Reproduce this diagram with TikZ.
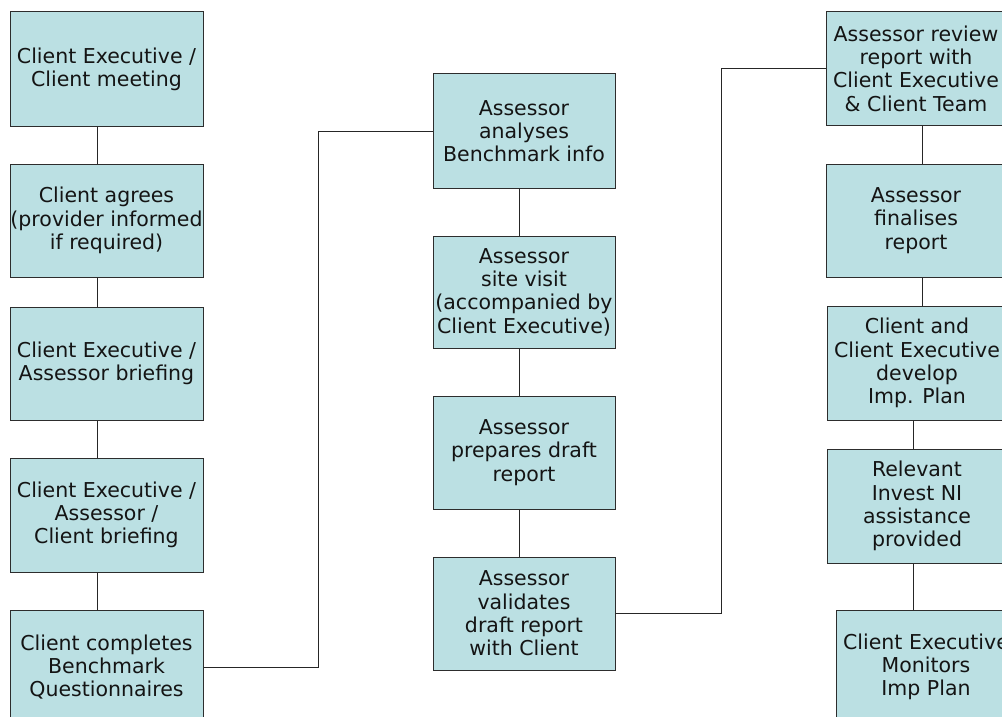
\documentclass[tikz,border=0pt]{standalone}
\usepackage{fontspec}
\setmainfont{DejaVu Sans}
\definecolor{boxfill}{RGB}{187,224,227}
\definecolor{boxline}{RGB}{45,45,45}
\definecolor{txt}{RGB}{20,20,20}
\begin{document}
\begin{tikzpicture}[x=1pt,y=-1pt,
  box/.style={draw=boxline, fill=boxfill, line width=1pt, align=center,
    inner sep=0pt, text=txt, font=\fontsize{20.5}{23.3}\selectfont},
  lbox/.style={box, minimum width=193pt},
  mbox/.style={box, minimum width=182pt},
  rbox/.style={box, minimum width=180pt},
  link/.style={draw=black!85, line width=1pt}]
\clip (0,0) rectangle (1002,717);
\fill[white] (0,0) rectangle (1002,717);
% left column
\node[lbox, minimum height=114pt] (l1) at (106.5,69) {Client Executive /\\Client meeting};
\node[lbox, minimum height=113pt] (l2) at (106.5,220.5) {Client agrees\\(provider informed\\if required)};
\node[lbox, minimum height=113pt] (l3) at (106.5,363.5) {Client Executive /\\Assessor briefing};
\node[lbox, minimum height=114pt] (l4) at (106.5,515) {Client Executive /\\Assessor /\\Client briefing};
\node[lbox, minimum height=114pt] (l5) at (106.5,667) {Client completes\\Benchmark\\Questionnaires};
% middle column
\node[mbox, minimum height=114pt] (m1) at (524,131) {Assessor\\analyses\\Benchmark info};
\node[mbox, minimum height=112pt] (m2) at (524,292) {Assessor\\site visit\\(accompanied by\\Client Executive)};
\node[mbox, minimum height=113pt] (m3) at (524,452.5) {Assessor\\prepares draft\\report};
\node[mbox, minimum height=113pt] (m4) at (524,613.5) {Assessor\\validates\\draft report\\with Client};
% right column
\node[rbox, minimum height=113pt] (r1) at (916,68.5) {Assessor review\\report with\\Client Executive\\\& Client Team};
\node[rbox, minimum height=113pt] (r2) at (916,220.5) {Assessor\\finalises\\report};
\node[rbox, minimum height=114pt] (r3) at (917,363) {Client and\\Client Executive\\develop\\Imp. Plan};
\node[rbox, minimum height=114pt] (r4) at (917,506) {Relevant\\Invest NI\\assistance\\provided};
\node[rbox, minimum height=114pt] (r5) at (926,667) {Client Executive\\Monitors\\Imp Plan};
% connector columns
\coordinate (lx) at (97,0);
\coordinate (mx) at (519,0);
\coordinate (rxa) at (922,0);
\coordinate (rxb) at (913,0);
\coordinate (j1) at (318,0);
\coordinate (j2) at (721,0);
% connectors
\draw[link] (l1.south -| lx) -- (l2.north -| lx);
\draw[link] (l2.south -| lx) -- (l3.north -| lx);
\draw[link] (l3.south -| lx) -- (l4.north -| lx);
\draw[link] (l4.south -| lx) -- (l5.north -| lx);
\draw[link] (l5.east) -- (j1 |- l5.east) -- (j1 |- m1.west) -- (m1.west);
\draw[link] (m1.south -| mx) -- (m2.north -| mx);
\draw[link] (m2.south -| mx) -- (m3.north -| mx);
\draw[link] (m3.south -| mx) -- (m4.north -| mx);
\draw[link] (m4.east) -- (j2 |- m4.east) -- (j2 |- r1.west) -- (r1.west);
\draw[link] (r1.south -| rxa) -- (r2.north -| rxa);
\draw[link] (r2.south -| rxa) -- (r3.north -| rxa);
\draw[link] (r3.south -| rxb) -- (r4.north -| rxb);
\draw[link] (r4.south -| rxb) -- (r5.north -| rxb);
\end{tikzpicture}
\end{document}
